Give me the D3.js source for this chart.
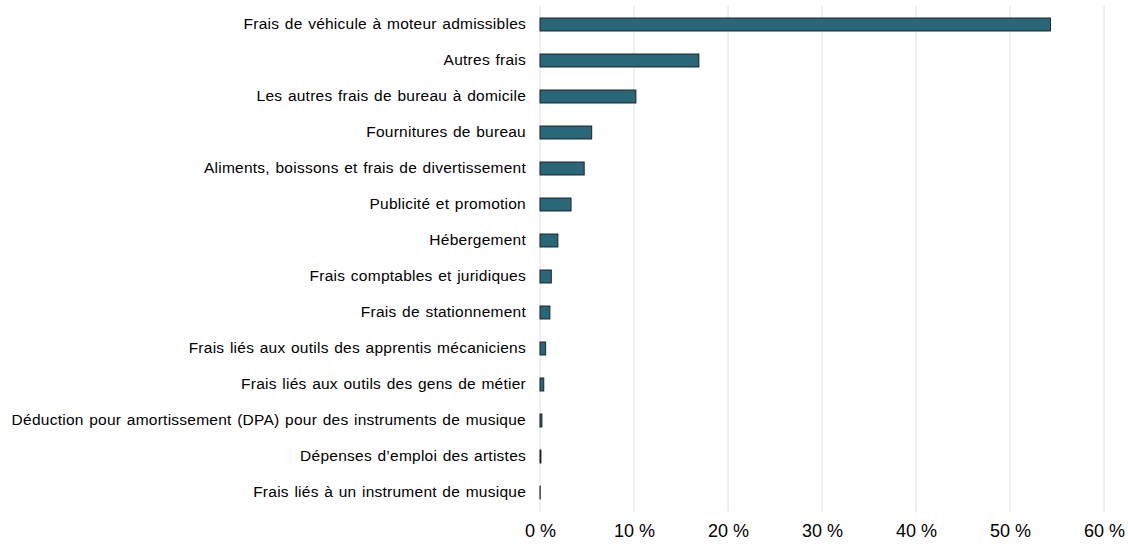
<!DOCTYPE html>
<html><head><meta charset="utf-8">
<script src="https://cdn.jsdelivr.net/npm/d3@7"></script>
<style>body{margin:0;background:#fff;}svg{display:block;}</style>
</head><body>
<script>
const categories = [
  "Frais de véhicule à moteur admissibles",
  "Autres frais",
  "Les autres frais de bureau à domicile",
  "Fournitures de bureau",
  "Aliments, boissons et frais de divertissement",
  "Publicité et promotion",
  "Hébergement",
  "Frais comptables et juridiques",
  "Frais de stationnement",
  "Frais liés aux outils des apprentis mécaniciens",
  "Frais liés aux outils des gens de métier",
  "Déduction pour amortissement (DPA) pour des instruments de musique",
  "Dépenses d’emploi des artistes",
  "Frais liés à un instrument de musique"
];
const values = [54.3, 16.9, 10.2, 5.5, 4.7, 3.3, 1.9, 1.2, 1.05, 0.6, 0.4, 0.2, 0.1, 0.02];
const ticks = [0, 10, 20, 30, 40, 50, 60];

const W = 1128, H = 544;
const svg = d3.select("body").append("svg").attr("width", W).attr("height", H);
const x = d3.scaleLinear().domain([0, 60]).range([540, 1104]);
const y = d3.scaleBand().domain(categories).range([6.5, 510.5]).paddingInner(0.64).paddingOuter(0.32);

// gridlines
svg.append("g").selectAll("line").data(ticks).join("line")
  .attr("x1", d => x(d)).attr("x2", d => x(d))
  .attr("y1", 6).attr("y2", 512)
  .attr("stroke", "#e0e0e0").attr("stroke-width", 1);

// bars
svg.append("g").selectAll("rect").data(values).join("rect")
  .attr("x", x(0))
  .attr("y", (d, i) => y(categories[i]))
  .attr("width", d => x(d) - x(0))
  .attr("height", y.bandwidth())
  .attr("fill", "#2a6779")
  .attr("stroke", "#1b2226")
  .attr("stroke-width", 1);

// y axis labels
const yAxis = d3.axisLeft(y).tickSize(0).tickPadding(14);
const gy = svg.append("g").attr("transform", `translate(${x(0)},0)`).call(yAxis);
gy.select(".domain").remove();
gy.selectAll("text")
  .attr("font-family", "Liberation Sans, Arial, sans-serif")
  .attr("font-size", 15.5)
  .attr("letter-spacing", 0.25)
  .attr("word-spacing", 1)
  .attr("fill", "#000");

// x axis labels
const xAxis = d3.axisBottom(x).tickValues(ticks).tickSize(0).tickPadding(0).tickFormat(d => d + " %");
const gx = svg.append("g").attr("transform", `translate(0,524)`).call(xAxis);
gx.select(".domain").remove();
gx.selectAll("text").attr("font-family", "Liberation Sans, Arial, sans-serif").attr("font-size", 18).attr("fill", "#000");
</script>
</body></html>
